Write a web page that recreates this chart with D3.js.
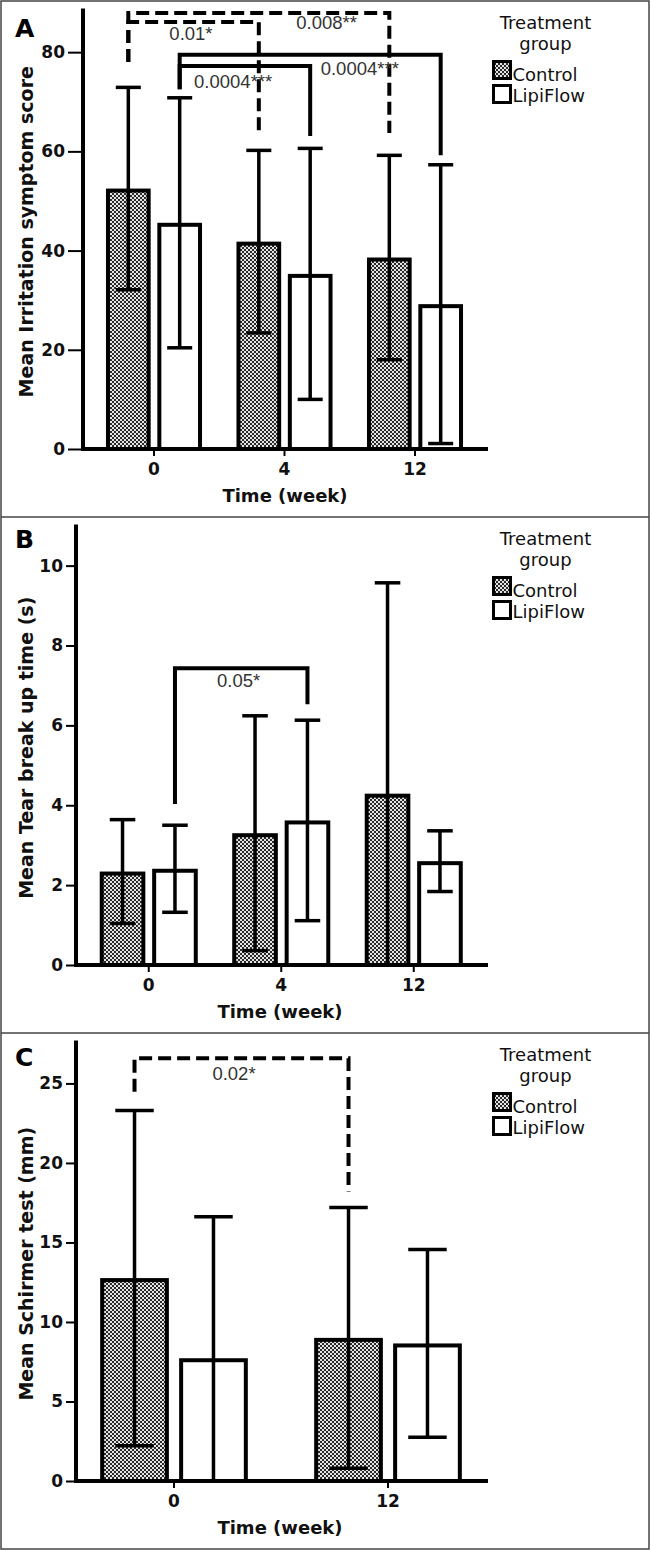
<!DOCTYPE html>
<html><head><meta charset="utf-8">
<script src="https://cdn.jsdelivr.net/npm/d3@7"></script>
<style>html,body{margin:0;padding:0;background:#fff;} svg{display:block;}</style>
</head><body><svg id="chart" width="651" height="1551"></svg>
<script>
// ---------- DATA ----------
const groups = ["Control", "LipiFlow"];
const weeksAB = ["0", "4", "12"];
const weeksC = ["0", "12"];

const irritationControlMean = [52.5, 41.8, 38.6];
const irritationControlSD   = [20.4, 18.4, 20.6];
const irritationLipiFlowMean = [45.6, 35.3, 29.2];
const irritationLipiFlowSD   = [25.2, 25.3, 28.1];

const tbutControlMean = [2.34, 3.30, 4.29];
const tbutControlSD   = [1.30, 2.94, 5.28];
const tbutLipiFlowMean = [2.41, 3.62, 2.60];
const tbutLipiFlowSD   = [1.09, 2.51, 0.76];

const schirmerControlMean = [12.76, 9.00];
const schirmerControlSD   = [10.54, 8.20];
const schirmerLipiFlowMean = [7.72, 8.65];
const schirmerLipiFlowSD   = [8.90, 5.90];

const irritationTicks = [0, 20, 40, 60, 80];
const tbutTicks = [0, 2, 4, 6, 8, 10];
const schirmerTicks = [0, 5, 10, 15, 20, 25];

// significance brackets: compared bars, bracket height and leg ends (in data units), p label
const irritationBrackets = [
  {from: ["0", "Control"], to: ["4", "Control"], level: 86.1, leftEnd: 78, rightEnd: 63.7, label: "0.01*", dashed: true},
  {from: ["0", "Control"], to: ["12", "Control"], level: 87.9, leftEnd: 78, rightEnd: 63.7, label: "0.008**", dashed: true},
  {from: ["0", "LipiFlow"], to: ["4", "LipiFlow"], level: 77.2, leftEnd: 72.5, rightEnd: 63.1, label: "0.0004***", dashed: false},
  {from: ["0", "LipiFlow"], to: ["12", "LipiFlow"], level: 79.5, leftEnd: 72.5, rightEnd: 59.2, label: "0.0004***", dashed: false}
];
const tbutBrackets = [
  {from: ["0", "LipiFlow"], to: ["4", "LipiFlow"], level: 7.43, leftEnd: 4.03, rightEnd: 6.53, label: "0.05*", dashed: false}
];
const schirmerBrackets = [
  {from: ["0", "Control"], to: ["12", "Control"], level: 26.58, leftEnd: 24.48, rightEnd: 18.2, label: "0.02*", dashed: true}
];

// ---------- DRAWING ----------
const svg = d3.select("#chart");
const defs = svg.append("defs");
const pat = defs.append("pattern").attr("id", "hatch")
  .attr("patternUnits", "userSpaceOnUse").attr("width", 4).attr("height", 4);
pat.append("rect").attr("width", 4).attr("height", 4).attr("fill", "#e4e4e4");
pat.append("rect").attr("width", 2).attr("height", 2).attr("fill", "#2a2a2a");
pat.append("rect").attr("x", 2).attr("y", 2).attr("width", 2).attr("height", 2).attr("fill", "#2a2a2a");

const boldFont = "'DejaVu Sans', sans-serif";

svg.append("rect").attr("x", 1).attr("y", 1).attr("width", 648).attr("height", 1548)
  .attr("fill", "none").attr("stroke", "#444").attr("stroke-width", 1.5);
[517, 1033].forEach(yy => svg.append("line").attr("x1", 1).attr("x2", 649)
  .attr("y1", yy).attr("y2", yy).attr("stroke", "#444").attr("stroke-width", 1.5));

const panels = [
  {letter: "A", top: 1, letterBase: 35.5, axisX: 83, xRange: [88.75, 480.25], pad: 0.264, yMax: 88.8,
   weeks: weeksAB, ticks: irritationTicks, tickSize: 15, titleX: 285,
   mean: {Control: irritationControlMean, LipiFlow: irritationLipiFlowMean},
   sd: {Control: irritationControlSD, LipiFlow: irritationLipiFlowSD},
   yTitle: "Mean Irritation symptom score", brackets: irritationBrackets,
   labelPos: [[0.48, 18], [0.76, 16], [0.41, 22], [0.69, 20]]},
  {letter: "B", top: 517, letterBase: 31, axisX: 76, xRange: [82.5, 480], pad: 0.26, yMax: 11.03,
   weeks: weeksAB, ticks: tbutTicks, tickSize: 10, titleX: 280,
   mean: {Control: tbutControlMean, LipiFlow: tbutLipiFlowMean},
   sd: {Control: tbutControlSD, LipiFlow: tbutLipiFlowSD},
   yTitle: "Mean Tear break up time (s)", brackets: tbutBrackets,
   labelPos: [[0.48, 19]]},
  {letter: "C", top: 1033, letterBase: 32.5, axisX: 76, xRange: [67, 495], pad: 0.31, yMax: 27.7,
   weeks: weeksC, ticks: schirmerTicks, tickSize: 10, titleX: 280,
   mean: {Control: schirmerControlMean, LipiFlow: schirmerLipiFlowMean},
   sd: {Control: schirmerControlSD, LipiFlow: schirmerLipiFlowSD},
   yTitle: "Mean Schirmer test (mm)", brackets: schirmerBrackets,
   labelPos: [[0.465, 22]]}
];

panels.forEach(p => {
  const g = svg.append("g").attr("transform", `translate(0,${p.top})`);
  const y0 = 448, yTop = 7.5;
  const y = d3.scaleLinear().domain([0, p.yMax]).range([y0, yTop]);
  const x = d3.scaleBand().domain(p.weeks).range(p.xRange).paddingInner(p.pad).paddingOuter(p.pad / 2);
  const xs = d3.scaleBand().domain(groups).range([0, x.bandwidth()]).paddingInner(0.13);
  const cx = (w, gr) => x(w) + xs(gr) + xs.bandwidth() / 2;

  const rows = [];
  p.weeks.forEach((w, i) => groups.forEach(gr =>
    rows.push({week: w, group: gr, mean: p.mean[gr][i], sd: p.sd[gr][i]})));

  // bars
  g.selectAll("rect.bar").data(rows).enter().append("rect").attr("class", "bar")
    .attr("x", d => x(d.week) + xs(d.group) + 2)
    .attr("width", xs.bandwidth() - 4)
    .attr("y", d => y(d.mean) + 2)
    .attr("height", d => y0 - y(d.mean) - 2)
    .attr("fill", d => d.group === "Control" ? "url(#hatch)" : "#fff")
    .attr("stroke", "#000").attr("stroke-width", 4);

  // error bars
  const capW = xs.bandwidth() * 0.56;
  const eb = g.selectAll("g.err").data(rows).enter().append("g").attr("class", "err");
  eb.append("line")
    .attr("x1", d => cx(d.week, d.group)).attr("x2", d => cx(d.week, d.group))
    .attr("y1", d => y(Math.max(0, d.mean - d.sd))).attr("y2", d => y(d.mean + d.sd))
    .attr("stroke", "#000").attr("stroke-width", 3.5);
  eb.append("line")
    .attr("x1", d => cx(d.week, d.group) - capW / 2).attr("x2", d => cx(d.week, d.group) + capW / 2)
    .attr("y1", d => y(d.mean + d.sd)).attr("y2", d => y(d.mean + d.sd))
    .attr("stroke", "#000").attr("stroke-width", 3.5);
  eb.filter(d => d.mean - d.sd > 0).append("line")
    .attr("x1", d => cx(d.week, d.group) - capW / 2).attr("x2", d => cx(d.week, d.group) + capW / 2)
    .attr("y1", d => y(d.mean - d.sd)).attr("y2", d => y(d.mean - d.sd))
    .attr("stroke", "#000").attr("stroke-width", 3.5);

  // axes
  const ya = g.append("g").attr("transform", `translate(${p.axisX},0)`)
    .call(d3.axisLeft(y).tickValues(p.ticks).tickSize(p.tickSize).tickPadding(3).tickFormat(d3.format("d")));
  ya.select(".domain").remove();
  ya.selectAll(".tick line").attr("stroke", "#000").attr("stroke-width", 2);
  ya.selectAll(".tick text").attr("font-family", boldFont).attr("font-weight", "bold")
    .attr("font-size", 17).attr("fill", "#111");
  g.append("line").attr("x1", p.axisX).attr("x2", p.axisX).attr("y1", yTop).attr("y2", y0 + 2)
    .attr("stroke", "#000").attr("stroke-width", 4);
  g.append("line").attr("x1", p.axisX - 2).attr("x2", 488).attr("y1", y0).attr("y2", y0)
    .attr("stroke", "#000").attr("stroke-width", 4);
  const xt = g.selectAll("g.xt").data(p.weeks).enter().append("g").attr("class", "xt")
    .attr("transform", w => `translate(${x(w) + x.bandwidth() / 2},${y0})`);
  xt.append("line").attr("y1", 0).attr("y2", 7).attr("stroke", "#000").attr("stroke-width", 2);
  xt.append("text").attr("y", 26).attr("text-anchor", "middle").text(w => w)
    .attr("font-family", boldFont).attr("font-weight", "bold").attr("font-size", 17).attr("fill", "#111");

  // titles
  g.append("text").attr("x", p.titleX).attr("y", 501).attr("text-anchor", "middle")
    .attr("font-family", boldFont).attr("font-weight", "bold").attr("font-size", 18).attr("fill", "#111")
    .text("Time (week)");
  g.append("text").attr("transform", `translate(33,${(y0 + yTop) / 2 + 3}) rotate(-90)`)
    .attr("text-anchor", "middle")
    .attr("font-family", boldFont).attr("font-weight", "bold").attr("font-size", 19).attr("fill", "#111")
    .text(p.yTitle);
  g.append("text").attr("x", 15).attr("y", p.letterBase)
    .attr("font-family", boldFont).attr("font-weight", "bold").attr("font-size", 25).attr("fill", "#000")
    .text(p.letter);

  // brackets
  p.brackets.forEach((b, i) => {
    const xL = cx(b.from[0], b.from[1]), xR = cx(b.to[0], b.to[1]);
    g.append("path")
      .attr("d", `M${xL},${y(b.leftEnd)}V${y(b.level)}H${xR}V${y(b.rightEnd)}`)
      .attr("fill", "none").attr("stroke", "#000").attr("stroke-width", 4)
      .attr("stroke-dasharray", b.dashed ? "13,6" : null);
    const [t, dy] = p.labelPos[i];
    g.append("text").attr("x", xL + t * (xR - xL)).attr("y", y(b.level) + dy)
      .attr("text-anchor", "middle")
      .attr("font-family", "'Liberation Sans', Arial, sans-serif").attr("font-size", 18.5).attr("fill", "#333")
      .text(b.label);
  });

  // legend
  const lg = g.append("g");
  lg.append("text").attr("x", 545.5).attr("y", 27.5).attr("text-anchor", "middle").text("Treatment");
  lg.append("text").attr("x", 545.5).attr("y", 49).attr("text-anchor", "middle").text("group");
  groups.forEach((gr, i) => {
    lg.append("rect").attr("x", 493.5).attr("y", 60.5 + i * 24).attr("width", 17).attr("height", 17)
      .attr("fill", gr === "Control" ? "url(#hatch)" : "#fff").attr("stroke", "#000").attr("stroke-width", 3);
    lg.append("text").attr("x", 512.5).attr("y", 79.5 + i * 21).text(gr);
  });
  lg.selectAll("text").attr("font-family", boldFont).attr("font-size", 18).attr("fill", "#111");
});
</script>
</body></html>
